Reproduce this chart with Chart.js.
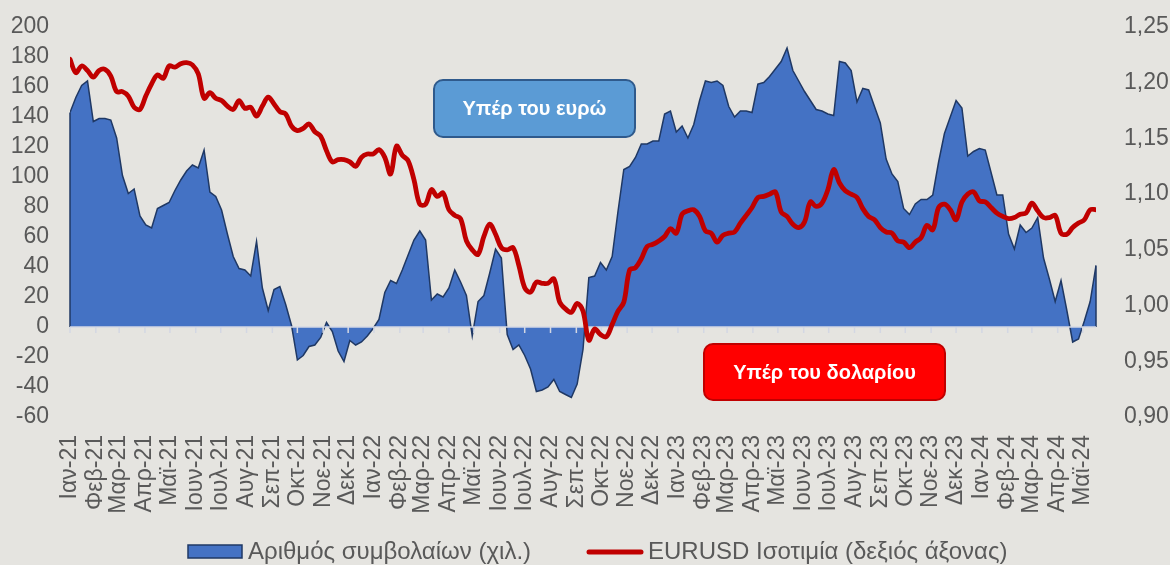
<!DOCTYPE html>
<html>
<head>
<meta charset="utf-8">
<script src="https://cdn.jsdelivr.net/npm/chart.js@4"></script>
<style>
  body { margin: 0; background: #E5E4E0; }
  #wrap { width: 1170px; height: 565px; }
</style>
</head>
<body>
<div id="wrap"><canvas id="myChart" width="1170" height="565"></canvas></div>
<script>
const ctx = document.getElementById('myChart');

// weekly observations (Fridays), starting 1 Jan 2021
const startDate = Date.UTC(2021, 0, 1);

// number of contracts (thousands), left axis
const contracts = [143,153,161,164,137,139,139,138,126,101,
  89,92,74,68,66,79,81,83,91,98,
  104,108,106,118,90,87,78,62,47,39,
  38,34,57,26,11,25,27,15,1,-22,
  -19,-13,-12,-7,3,-3,-16,-23,-9,-12,
  -10,-6,-1,5,23,31,29,38,48,58,
  64,58,18,22,20,26,38,30,21,-6,
  17,21,36,52,46,-5,-15,-12,-19,-28,
  -43,-42,-40,-35,-43,-45,-47,-38,-15,33,
  34,43,38,47,77,105,107,113,122,122,
  124,124,142,144,130,134,126,135,151,164,
  163,164,161,147,140,144,144,143,162,163,
  167,172,177,186,171,164,157,151,145,144,
  142,141,177,176,171,150,159,158,147,136,
  112,102,97,79,75,82,85,85,88,110,
  129,140,151,146,114,117,119,118,103,88,
  88,62,52,68,63,66,73,46,32,17,
  31,11,-10,-8,4,17,41];

// EURUSD, right axis
const eurusd = [1.221,1.209,1.215,1.211,1.205,1.211,1.212,1.206,1.192,1.192,
  1.188,1.178,1.176,1.188,1.199,1.207,1.204,1.215,1.214,1.217,
  1.218,1.216,1.208,1.186,1.191,1.186,1.184,1.179,1.176,1.184,
  1.177,1.178,1.170,1.179,1.187,1.181,1.174,1.172,1.161,1.157,
  1.159,1.163,1.156,1.152,1.139,1.129,1.131,1.131,1.129,1.125,
  1.133,1.136,1.136,1.140,1.133,1.118,1.143,1.135,1.130,1.113,
  1.091,1.091,1.104,1.098,1.101,1.086,1.081,1.078,1.058,1.050,
  1.046,1.062,1.073,1.064,1.052,1.050,1.052,1.036,1.016,1.012,
  1.021,1.020,1.020,1.024,1.003,0.997,0.994,1.002,0.995,0.969,
  0.979,0.974,0.972,0.983,0.995,1.003,1.032,1.034,1.042,1.053,
  1.055,1.058,1.062,1.069,1.065,1.082,1.085,1.086,1.080,1.067,
  1.065,1.057,1.063,1.065,1.066,1.074,1.081,1.088,1.097,1.098,
  1.100,1.102,1.084,1.080,1.073,1.070,1.075,1.093,1.089,1.092,
  1.104,1.122,1.110,1.103,1.100,1.097,1.087,1.080,1.077,1.070,
  1.066,1.065,1.058,1.057,1.052,1.057,1.061,1.072,1.068,1.088,
  1.091,1.086,1.077,1.093,1.100,1.102,1.094,1.093,1.088,1.083,
  1.080,1.078,1.079,1.082,1.083,1.092,1.085,1.079,1.079,1.081,
  1.065,1.064,1.070,1.074,1.077,1.086,1.086];

const monthNames = ['Ιαν','Φεβ','Μαρ','Απρ','Μαϊ','Ιουν','Ιουλ','Αυγ','Σεπ','Οκτ','Νοε','Δεκ'];
const seriesNames = ['Αριθμός συμβολαίων (χιλ.)', 'EURUSD Ισοτιμία (δεξιός άξονας)'];

const DAY = 86400000;
const weekDays = contracts.map((v, i) => i * 7);

// month ticks Jan-21 .. May-24
const monthTicks = [];
const monthLabels = [];
for (let m = 0; m < 41; m++) {
  const y = 2021 + Math.floor(m / 12), mm = m % 12;
  monthTicks.push((Date.UTC(y, mm, 1) - startDate) / DAY);
  monthLabels.push(monthNames[mm] + '-' + String(y).slice(2));
}

const txt = '#595959';
const fontFam = '"Liberation Sans", Arial, sans-serif';

const overlay = {
  id: 'overlay',
  afterDatasetDraw(chart, args) {
    if (args.index !== 0) return;
    const c = chart.ctx, area = chart.chartArea;
    const y0 = chart.scales.y.getPixelForValue(0);
    const pts = args.meta.data;
    c.save();
    c.strokeStyle = '#1F3864';
    c.lineWidth = 1.5;
    [pts[0], pts[pts.length - 1]].forEach(p => {
      c.beginPath(); c.moveTo(p.x, p.y); c.lineTo(p.x, y0); c.stroke();
    });
    c.strokeStyle = '#D3D7E3';
    c.beginPath();
    c.moveTo(area.left, y0); c.lineTo(area.right, y0);
    chart.scales.x.ticks.forEach(t => {
      const x = chart.scales.x.getPixelForValue(t.value);
      c.moveTo(x, y0); c.lineTo(x, y0 + 6);
    });
    c.stroke();
    c.restore();
  },
  afterDraw(chart) {
    const c = chart.ctx;
    c.save();
    // annotation boxes
    const box = (x, y, w, h, fill, stroke, label) => {
      c.beginPath();
      c.roundRect(x, y, w, h, 9);
      c.fillStyle = fill; c.fill();
      c.lineWidth = 2; c.strokeStyle = stroke; c.stroke();
      c.fillStyle = '#FFFFFF';
      c.font = 'bold 20px ' + fontFam;
      c.textAlign = 'center'; c.textBaseline = 'middle';
      c.fillText(label, x + w / 2, y + h / 2 + 1);
    };
    box(434, 80, 201, 57, '#5B9BD5', '#2F5A8C', 'Υπέρ του ευρώ');
    box(704, 344, 241, 56, '#FF0000', '#C00000', 'Υπέρ του δολαρίου');

    // legend
    const ly = 552;
    c.font = '24px ' + fontFam;
    c.textAlign = 'left'; c.textBaseline = 'middle';
    c.fillStyle = '#4472C4';
    c.fillRect(188, ly - 7, 54, 13);
    c.lineWidth = 1.5; c.strokeStyle = '#1F3864';
    c.strokeRect(188, ly - 7, 54, 13);
    c.fillStyle = txt;
    c.fillText(seriesNames[0], 248, ly);
    c.beginPath();
    c.moveTo(589, ly); c.lineTo(641, ly);
    c.lineWidth = 5; c.strokeStyle = '#C00000'; c.lineCap = 'round';
    c.stroke();
    c.fillText(seriesNames[1], 648, ly);
    c.restore();
  }
};

const fitY = w => s => { s.width = w; s.paddingTop = 0; s.paddingBottom = 0; };

new Chart(ctx, {
  type: 'line',
  data: {
    datasets: [
      {
        label: seriesNames[0],
        data: weekDays.map((d, i) => ({x: d, y: contracts[i]})),
        yAxisID: 'y',
        backgroundColor: '#4472C4',
        borderColor: '#1F3864',
        borderWidth: 1.5,
        fill: 'origin',
        pointRadius: 0,
        tension: 0,
        order: 1
      },
      {
        label: seriesNames[1],
        data: weekDays.map((d, i) => ({x: d, y: eurusd[i]})),
        yAxisID: 'y1',
        borderColor: '#C00000',
        backgroundColor: '#C00000',
        borderWidth: 4.8,
        borderCapStyle: 'round',
        borderJoinStyle: 'round',
        fill: false,
        pointRadius: 0,
        tension: 0.35,
        order: 0
      }
    ]
  },
  options: {
    responsive: false,
    animation: false,
    devicePixelRatio: 1,
    layout: { padding: { top: 27, left: 0, right: 0, bottom: 0 } },
    plugins: {
      legend: { display: false },
      tooltip: { enabled: false }
    },
    scales: {
      x: {
        type: 'linear',
        min: 0,
        max: weekDays[weekDays.length - 1],
        grid: { display: false, drawTicks: false },
        border: { display: false },
        afterBuildTicks: s => { s.ticks = monthTicks.map(v => ({value: v})); },
        afterFit: s => { s.height = 148; },
        ticks: {
          autoSkip: false,
          minRotation: 90,
          maxRotation: 90,
          padding: 18,
          color: txt,
          font: { size: 23, family: fontFam },
          callback: (v, i) => monthLabels[i]
        }
      },
      y: {
        position: 'left',
        min: -60,
        max: 200,
        grid: { display: false, drawTicks: false },
        border: { display: false },
        afterFit: fitY(70),
        ticks: {
          autoSkip: false,
          stepSize: 20,
          padding: 21,
          color: txt,
          font: { size: 23, family: fontFam }
        }
      },
      y1: {
        position: 'right',
        min: 0.9,
        max: 1.25,
        grid: { display: false, drawTicks: false },
        border: { display: false },
        afterFit: fitY(74),
        ticks: {
          autoSkip: false,
          stepSize: 0.05,
          padding: 28,
          color: txt,
          font: { size: 23, family: fontFam },
          callback: v => v.toFixed(2).replace('.', ',')
        }
      }
    }
  },
  plugins: [overlay]
});
</script>
</body>
</html>
